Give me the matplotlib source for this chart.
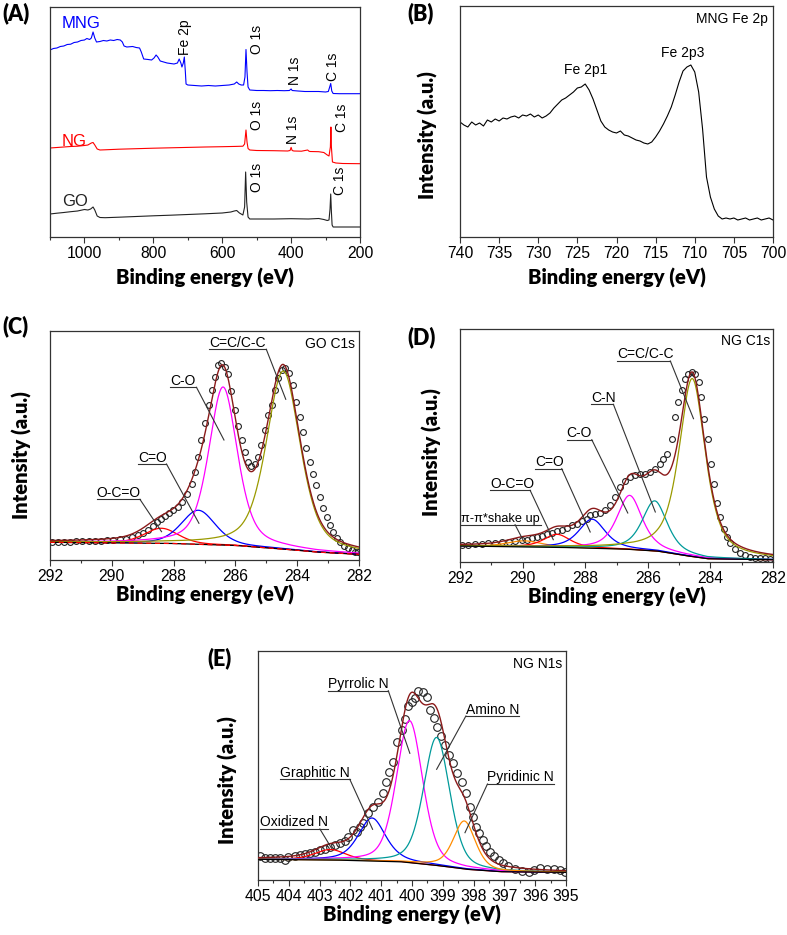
import numpy as np
import matplotlib
matplotlib.use('Agg')
import matplotlib.pyplot as plt

# ---------------- DATA ----------------
# (A) survey spectra (binding energy eV, intensity a.u.)
mng_x = [1100, 1090, 1080, 1070, 1060, 1050, 1040, 1030, 1020, 1010, 1000, 993, 985, 980, 975, 970, 965, 955, 945, 935,
         925, 915, 905, 896, 890, 885, 877, 860, 850, 840, 835, 828, 815, 805, 798, 792, 787, 780, 770, 760,
         750, 740, 730, 725, 720, 717, 713, 710, 707, 705, 700, 680, 660, 640, 620, 600, 580, 565, 558, 552,
         545, 538, 534, 531, 528, 525, 520, 500, 480, 460, 440, 420, 405, 400, 397, 380, 360, 340, 320, 300,
         292, 288, 285, 282, 278, 260, 240, 220, 200]
mng_y = [187, 188.5, 189, 190.5, 191, 192.5, 192.8, 194.5, 195, 196.5, 197, 198.5, 197.5, 199, 205, 199, 195, 195.5, 196.5, 196,
         197, 196.5, 197.5, 197, 195, 191, 190, 190.5, 189.5, 189, 185, 178, 177.5, 177, 179, 182, 180, 176, 175, 174,
         173.5, 173, 174, 178, 174, 170, 174, 180, 165, 153, 152, 151.5, 151, 151.5, 151, 151.5, 152, 153, 155, 153,
         152, 152, 160, 187.5, 165, 150, 147, 146.5, 146.5, 146.3, 146.5, 146.3, 146.5, 148, 146.5, 146, 145.5, 145.5, 145.5, 145,
         145.5, 150, 153.5, 146, 143.5, 143.3, 143.3, 143.3, 143.3]
ng_x = [1100, 1080, 1060, 1040, 1020, 1000, 990, 980, 975, 970, 963, 955, 940, 900, 850, 800, 750, 700, 650, 600,
        560, 540, 535, 531, 528, 525, 520, 500, 450, 410, 403, 400, 397, 392, 370, 352, 348, 345, 320, 305,
        295, 290, 286, 284.5, 283, 280, 270, 250, 200]
ng_y = [89, 89.5, 90, 90.5, 90.8, 91.5, 92, 94, 94.5, 92, 88, 87, 87.2, 87.8, 88.3, 88.8, 89.2, 89.6, 90, 90.3,
        90.6, 90.8, 93, 107, 95, 88.5, 87, 86.5, 86.3, 86, 86.5, 89.6, 86.5, 86, 85.8, 87, 85.8, 85.5, 85.3, 84.5,
        82, 81, 90, 110, 90, 75, 74, 73.5, 73.3]
go_x = [1100, 1080, 1060, 1040, 1020, 1000, 990, 982, 975, 970, 963, 955, 940, 900, 850, 800, 750, 700, 650, 600,
        575, 565, 558, 550, 540, 535, 532, 529, 525, 520, 500, 450, 400, 350, 320, 305, 295, 290, 287, 285,
        283, 281, 278, 250, 200]
go_y = [23, 23.8, 24.5, 25.3, 26, 27.5, 27, 28, 30, 27, 21, 19.5, 19.3, 19.8, 20.5, 21.2, 21.8, 22.5, 23.2, 24,
        25, 26, 26.5, 24, 22, 30, 65, 35, 20, 18, 18, 18, 18.3, 18, 18.5, 17.5, 16.5, 17, 28, 43,
        25, 12, 10, 10, 10]

# (B) MNG Fe 2p
fe_x = [740.0, 739.5, 739.0, 738.5, 738.0, 737.5, 737.0, 736.5, 736.0, 735.5, 735.0, 734.5, 734.0, 733.5, 733.0, 732.5,
        732.0, 731.5, 731.0, 730.5, 730.0, 729.5, 729.0, 728.5, 728.0, 727.5, 727.0, 726.5, 726.0, 725.5, 725.0, 724.5,
        724.0, 723.5, 723.0, 722.5, 722.0, 721.5, 721.0, 720.5, 720.0, 719.5, 719.0, 718.5, 718.0, 717.5, 717.0, 716.5,
        716.0, 715.5, 715.0, 714.5, 714.0, 713.5, 713.0, 712.5, 712.0, 711.5, 711.0, 710.5, 710.0, 709.5, 709.0, 708.5,
        708.0, 707.5, 707.0, 706.5, 706.0, 705.5, 705.0, 704.5, 704.0, 703.5, 703.0, 702.5, 702.0, 701.5, 701.0, 700.5, 700.0]
fe_y = [115, 112, 110, 115, 112, 114, 111, 117, 115, 118, 116, 119, 118, 120, 121, 119,
        122, 121, 123, 120, 122, 119, 121, 124, 129, 133, 137, 139, 142, 145, 149, 150,
        153, 147, 138, 127, 116, 110, 107, 105, 104, 106, 102, 101, 99, 97, 96, 94,
        93, 95, 100, 106, 113, 121, 130, 142, 155, 166, 170, 172, 165, 145, 108, 60,
        40, 28, 21, 18, 19, 18, 19, 17, 18, 19, 17, 18, 19, 17, 18, 19, 17]

# (C) GO C1s measured points
goc_x = [291.95, 291.75, 291.55, 291.35, 291.15, 290.95, 290.75, 290.55, 290.35, 290.15, 289.95, 289.75, 289.55, 289.35,
         289.15, 288.98, 288.82, 288.68, 288.55, 288.4, 288.28, 288.14, 288.01, 287.87, 287.74, 287.58, 287.42, 287.3,
         287.2, 287.1, 286.98, 286.87, 286.77, 286.67, 286.55, 286.45, 286.35, 286.25, 286.13, 286.02, 285.91, 285.8,
         285.7, 285.59, 285.48, 285.37, 285.27, 285.16, 285.05, 284.94, 284.83, 284.73, 284.62, 284.5, 284.38, 284.27,
         284.15, 284.04, 283.92, 283.81, 283.7, 283.6, 283.49, 283.38, 283.27, 283.16, 283.05, 282.94, 282.83, 282.72,
         282.6, 282.48, 282.36, 282.24, 282.12, 282.02]
goc_y = [17.8, 18.0, 18.2, 18.4, 18.6, 18.8, 19.0, 19.2, 19.4, 19.7, 20.0, 20.6, 21.5, 23.0,
         25.0, 27.5, 30.5, 34, 38.5, 41.5, 44.5, 47, 50, 53.5, 58, 66, 76.5, 88,
         103, 120, 137, 155, 170, 183, 195, 197, 193, 186, 169, 150, 134, 120,
         108, 98, 94, 96, 103, 115, 130, 145, 155, 170, 182, 190, 192, 187,
         175, 158, 143, 128, 112, 98, 86, 75, 63, 52, 43, 35, 28, 22,
         18, 14.5, 12, 10, 8.5, 8]
# (C) fitted components: centre (eV), height, FWHM (eV), Lorentzian fraction
goc_labels = ['O-C=O', 'C=O', 'C-O', 'C=C/C-C']
goc_center = [288.40, 287.20, 286.40, 284.45]
goc_height = [15, 34, 158, 178]
goc_fwhm = [1.3, 1.3, 1.1, 1.3]
goc_eta = [0.3, 0.35, 0.5, 0.5]
goc_bg_x = [292.0, 288.23, 286.07, 284.46, 283.38, 282.0]
goc_bg_y = [17.7, 16.7, 14.7, 11.0, 8.0, 5.7]

# (D) NG C1s measured points
ngc_x = [291.95, 291.73, 291.52, 291.31, 291.09, 290.88, 290.67, 290.45, 290.24, 290.03, 289.87, 289.71, 289.55, 289.39,
         289.23, 289.07, 288.91, 288.75, 288.59, 288.43, 288.27, 288.11, 287.95, 287.84, 287.68, 287.52, 287.36, 287.2,
         287.04, 286.88, 286.72, 286.56, 286.4, 286.24, 286.08, 285.92, 285.76, 285.6, 285.5, 285.39, 285.23, 285.12,
         285.02, 284.91, 284.8, 284.7, 284.59, 284.48, 284.38, 284.3, 284.22, 284.09, 283.98, 283.9, 283.79, 283.69,
         283.58, 283.47, 283.37, 283.21, 283.05, 282.89, 282.73, 282.57, 282.41, 282.25, 282.09]
ngc_y = [16.7, 17.3, 17.7, 18.3, 18.7, 19.3, 20, 20.3, 21, 21.7, 22.3, 23.7, 24.7, 26,
         27.7, 29.3, 30.7, 32.3, 34.3, 36.7, 38.3, 40.7, 43.3, 46.7, 47.7, 49.3, 51.7, 56.7,
         65, 75, 81, 85, 86.7, 87.7, 88.3, 90, 93, 97.7, 103.3, 107.7, 123.3, 145,
         160, 171.7, 183.3, 188.3, 190, 188.3, 180, 165, 143.3, 123.3, 97.7, 77.7, 59, 45,
         33.3, 25, 19, 13.3, 9.3, 6.7, 5.3, 4.3, 4, 3.7, 3.3]
ngc_labels = ['\u03c0-\u03c0*shake up', 'O-C=O', 'C=O', 'C-O', 'C-N', 'C=C/C-C']
ngc_center = [289.95, 288.90, 287.78, 286.58, 285.78, 284.58]
ngc_height = [6, 13, 29, 54, 50, 178]
ngc_fwhm = [1.3, 1.0, 1.0, 0.95, 0.95, 1.0]
ngc_eta = [0.5, 0.6, 0.6, 0.6, 0.6, 0.65]
ngc_bg_x = [292.0, 288.9, 286.78, 285.71, 284.86, 284.1, 282.0]
ngc_bg_y = [16.0, 14.7, 13.0, 11.0, 6.7, 3.3, 2.3]

# (E) NG N1s measured points
ngn_x = [404.95, 404.78, 404.62, 404.46, 404.3, 404.13, 404.02, 403.81, 403.64, 403.48, 403.32, 403.16, 402.99, 402.83,
         402.67, 402.51, 402.34, 402.18, 402.07, 401.91, 401.8, 401.69, 401.58, 401.42, 401.26, 401.1, 400.95, 400.85,
         400.74, 400.61, 400.48, 400.34, 400.23, 400.12, 400.01, 399.9, 399.79, 399.65, 399.52, 399.41, 399.28, 399.18,
         399.07, 398.93, 398.79, 398.66, 398.53, 398.38, 398.24, 398.13, 398.03, 397.92, 397.81, 397.7, 397.59, 397.48,
         397.35, 397.19, 397.03, 396.87, 396.65, 396.43, 396.21, 396.05, 395.84, 395.62, 395.4, 395.18, 395.02]
ngn_y = [24, 21.7, 21.7, 21.7, 22, 20, 23.3, 24, 24.7, 25.7, 26.7, 27.7, 29.7, 31.3,
         33.3, 35, 37, 39, 42.7, 50, 48.3, 52.7, 56.7, 66.7, 73.3, 78.3, 86.7, 98.3,
         108.3, 118.3, 138.3, 150, 160.7, 174, 178.3, 181.7, 189.3, 188.3, 183.3, 170, 161.7, 153.3,
         144, 135, 125, 116.7, 106.7, 98.3, 86.7, 73.3, 63.3, 53.3, 46.7, 40, 34, 28.3,
         24, 20, 16.7, 14, 11.3, 9.3, 7.7, 10, 11.7, 11, 10.7, 10, 8.3]
ngn_labels = ['Oxidized N', 'Graphitic N', 'Pyrrolic N', 'Amino N', 'Pyridinic N']
ngn_center = [402.65, 401.30, 400.08, 399.20, 398.30]
ngn_height = [10.5, 43, 142, 128, 48]
ngn_fwhm = [1.2, 1.05, 1.0, 1.0, 0.85]
ngn_eta = [0.5, 0.5, 0.35, 0.35, 0.45]
ngn_bg_x = [405.0, 402.56, 400.39, 399.31, 398.22, 397.14, 395.0]
ngn_bg_y = [20.7, 20.0, 18.3, 15.0, 10.7, 8.3, 7.7]

# ---------------- STYLE ----------------
W, H = 787, 935
fig = plt.figure(figsize=(W / 100, H / 100), dpi=100)
TICKF = 'Liberation Sans'
LABF = 'Lato'
SPINE = '#333333'
OLIVE = '#9a9a00'
TEAL = '#009a9a'
MAG = '#ff00ff'
BLUE = '#0000ff'
RED = '#ff0000'
ORANGE = '#ff8c00'
ENV = '#8b1a1a'
LABSIZE = 14.5


def add_ax(l, t, r, b):
    return fig.add_axes([l / W, 1 - b / H, (r - l) / W, (b - t) / H])


def style(ax, major, minor, xlim, ylim):
    ax.set_xlim(*xlim)
    ax.set_ylim(*ylim)
    ax.set_xticks(major)
    if minor is not None:
        ax.set_xticks(minor, minor=True)
    ax.set_yticks([])
    ax.tick_params(axis='x', which='major', direction='out', length=4, width=0.8,
                   color=SPINE, pad=2.5, labelsize=11.3)
    ax.tick_params(axis='x', which='minor', direction='out', length=2.5, width=0.8, color=SPINE)
    for lab in ax.get_xticklabels():
        lab.set_fontfamily(TICKF)
    for s in ax.spines.values():
        s.set_color(SPINE)
        s.set_linewidth(0.9)


def xlabel(ax, ypx_frac):
    ax.set_xlabel('Binding energy (eV)', fontfamily=LABF, fontweight='heavy', fontsize=LABSIZE)
    ax.xaxis.set_label_coords(0.5, ypx_frac)
    ax.xaxis.label.set_va('center')


def ylabel(ax, xfrac, yfrac):
    ax.set_ylabel('Intensity (a.u.)', fontfamily=LABF, fontweight='heavy', fontsize=LABSIZE)
    ax.yaxis.set_label_coords(xfrac, yfrac)
    ax.yaxis.label.set_va('center')


def panel(txt, xpx, ypx):
    fig.text(xpx / W, 1 - ypx / H, txt, fontfamily=LABF, fontweight='heavy', fontsize=15.5,
             ha='left', va='center')


def pv(x, c, a, w, eta):
    g = np.exp(-4 * np.log(2) * ((x - c) / w) ** 2)
    lo = 1 / (1 + 4 * ((x - c) / w) ** 2)
    return a * (eta * lo + (1 - eta) * g)


def fit_panel(ax, lo_x, hi_x, px, py, centers, heights, fwhms, etas, colors, bgx, bgy, ms, red_dash=False):
    xx = np.linspace(lo_x, hi_x, 1200)
    bg = np.interp(xx, bgx[::-1], bgy[::-1])
    ax.plot(px, py, linestyle='none', marker='o', ms=ms, mfc='none', mec='#222222', mew=0.8, zorder=2)
    total = bg.copy()
    for c, a, w, e, col in zip(centers, heights, fwhms, etas, colors):
        comp = pv(xx, c, a, w, e)
        total += comp
        ax.plot(xx, bg + comp, color=col, lw=0.9, zorder=3)
    ax.plot(xx, bg, color='black', lw=0.9, zorder=3)
    if red_dash:
        ax.plot(xx, bg, color=RED, lw=0.9, ls=(0, (4, 3)), zorder=3)
    ax.plot(xx, total, color=ENV, lw=1.0, zorder=4)


def callout(ax, text, x0, x1, yu, xs, xt, yt, fs=10):
    ax.text(x0, yu + 2.5, text, ha='left', va='baseline', fontfamily=TICKF, fontsize=fs, zorder=6)
    ax.plot([x0, x1], [yu, yu], color='#333333', lw=0.8, zorder=6, clip_on=False)
    ax.plot([xs, xt], [yu, yt], color='#333333', lw=0.8, zorder=6, clip_on=False)


# ---------------- (A) ----------------
axA = add_ax(50, 7, 360, 237)
axA.plot(mng_x, mng_y, color=BLUE, lw=0.8)
axA.plot(ng_x, ng_y, color=RED, lw=0.8)
axA.plot(go_x, go_y, color='#222222', lw=0.8)
style(axA, [1000, 800, 600, 400, 200], [1100, 900, 700, 500, 300], (1100, 200), (0, 230))
xlabel(axA, (237 - 278) / 230)
axA.text(1065, 214, 'MNG', color=BLUE, fontfamily=TICKF, fontsize=12, ha='left', va='center')
axA.text(1065, 95, 'NG', color=RED, fontfamily=TICKF, fontsize=12, ha='left', va='center')
axA.text(1065, 35, 'GO', color='#222222', fontfamily=TICKF, fontsize=12, ha='left', va='center')
for (tx, ty, s) in [(708, 200, 'Fe 2p'), (499, 198, 'O 1s'), (389, 166, 'N 1s'), (278, 170, 'C 1s'),
                    (499, 122, 'O 1s'), (395, 107, 'N 1s'), (252, 119, 'C 1s'),
                    (499, 60, 'O 1s'), (258, 56, 'C 1s')]:
    axA.text(tx, ty, s, rotation=90, fontfamily=TICKF, fontsize=10, ha='center', va='center')
panel('(A)', 2, 13)

# ---------------- (B) ----------------
axB = add_ax(460, 6, 773, 237)
axB.plot(fe_x, fe_y, color='black', lw=0.8)
style(axB, [740, 735, 730, 725, 720, 715, 710, 705, 700], None, (740, 700), (0, 231))
xlabel(axB, (237 - 278) / 231)
ylabel(axB, (428 - 460) / 313, (237 - 135) / 231)
axB.text(724.0, 167, 'Fe 2p1', fontfamily=TICKF, fontsize=10, ha='center', va='center')
axB.text(711.5, 184, 'Fe 2p3', fontfamily=TICKF, fontsize=10, ha='center', va='center')
axB.text(0.984, 0.943, 'MNG Fe 2p', transform=axB.transAxes, fontfamily=TICKF, fontsize=10,
         ha='right', va='center')
panel('(B)', 407, 13)

# ---------------- (C) ----------------
axC = add_ax(50, 331, 359, 560)
fit_panel(axC, 292, 282, goc_x, goc_y, goc_center, goc_height, goc_fwhm, goc_eta,
          [RED, BLUE, MAG, OLIVE], goc_bg_x, goc_bg_y, ms=4.2, red_dash=True)
style(axC, [292, 290, 288, 286, 284, 282], [291, 289, 287, 285, 283], (292, 282), (0, 229))
xlabel(axC, (560 - 595) / 229)
ylabel(axC, (22 - 50) / 309, (560 - 455) / 229)
callout(axC, goc_labels[0], 290.49, 289.09, 60.7, 289.09, 288.39, 28.3)
callout(axC, goc_labels[1], 289.14, 288.23, 96, 288.23, 287.18, 36.7)
callout(axC, goc_labels[2], 288.12, 287.26, 172.7, 287.26, 286.37, 120)
callout(axC, goc_labels[3], 286.85, 285.0, 210.7, 285.0, 284.37, 160.7)
axC.text(0.986, 0.945, 'GO C1s', transform=axC.transAxes, fontfamily=TICKF, fontsize=10,
         ha='right', va='center')
panel('(C)', 2, 326)

# ---------------- (D) ----------------
axD = add_ax(460, 329, 773, 562)
fit_panel(axD, 292, 282, ngc_x, ngc_y, ngc_center, ngc_height, ngc_fwhm, ngc_eta,
          [ORANGE, RED, BLUE, MAG, TEAL, OLIVE], ngc_bg_x, ngc_bg_y, ms=4.2)
style(axD, [292, 290, 288, 286, 284, 282], [291, 289, 287, 285, 283], (292, 282), (0, 233))
xlabel(axD, (562 - 597) / 233)
ylabel(axD, (432 - 460) / 313, (562 - 452) / 233)
callout(axD, ngc_labels[0], 291.98, 289.42, 37.3, 290.24, 289.97, 21, fs=9.2)
callout(axD, ngc_labels[1], 291.04, 289.76, 71.7, 289.76, 289.02, 22.3)
callout(axD, ngc_labels[2], 289.6, 288.75, 93.3, 288.75, 287.84, 30)
callout(axD, ngc_labels[3], 288.59, 287.79, 122.3, 287.79, 286.64, 49)
callout(axD, ngc_labels[4], 287.81, 287.1, 157.7, 287.1, 285.76, 50)
callout(axD, ngc_labels[5], 286.99, 285.28, 201, 285.28, 284.54, 143.3)
axD.text(0.991, 0.947, 'NG C1s', transform=axD.transAxes, fontfamily=TICKF, fontsize=10,
         ha='right', va='center')
panel('(D)', 407, 337)

# ---------------- (E) ----------------
axE = add_ax(258, 651, 566, 880)
fit_panel(axE, 405, 395, ngn_x, ngn_y, ngn_center, ngn_height, ngn_fwhm, ngn_eta,
          [RED, BLUE, MAG, TEAL, ORANGE], ngn_bg_x, ngn_bg_y, ms=5.5)
style(axE, list(range(405, 394, -1)), [404.5 - i for i in range(10)], (405, 395), (0, 229))
xlabel(axE, (880 - 915) / 229)
ylabel(axE, (228 - 258) / 308, (880 - 780) / 229)
callout(axE, ngn_labels[0], 404.95, 402.72, 51, 402.99, 402.61, 31.7)
callout(axE, ngn_labels[1], 404.27, 402.02, 100.7, 402.02, 401.28, 50.7)
callout(axE, ngn_labels[2], 402.74, 400.77, 189.3, 400.77, 400.07, 126.7)
callout(axE, ngn_labels[3], 398.25, 396.51, 164, 398.25, 399.2, 110.7)
callout(axE, ngn_labels[4], 397.55, 395.38, 96, 397.55, 398.28, 47.3)
axE.text(0.987, 0.945, 'NG N1s', transform=axE.transAxes, fontfamily=TICKF, fontsize=10,
         ha='right', va='center')
panel('(E)', 207, 658)

fig.savefig('out.png', dpi=100)
